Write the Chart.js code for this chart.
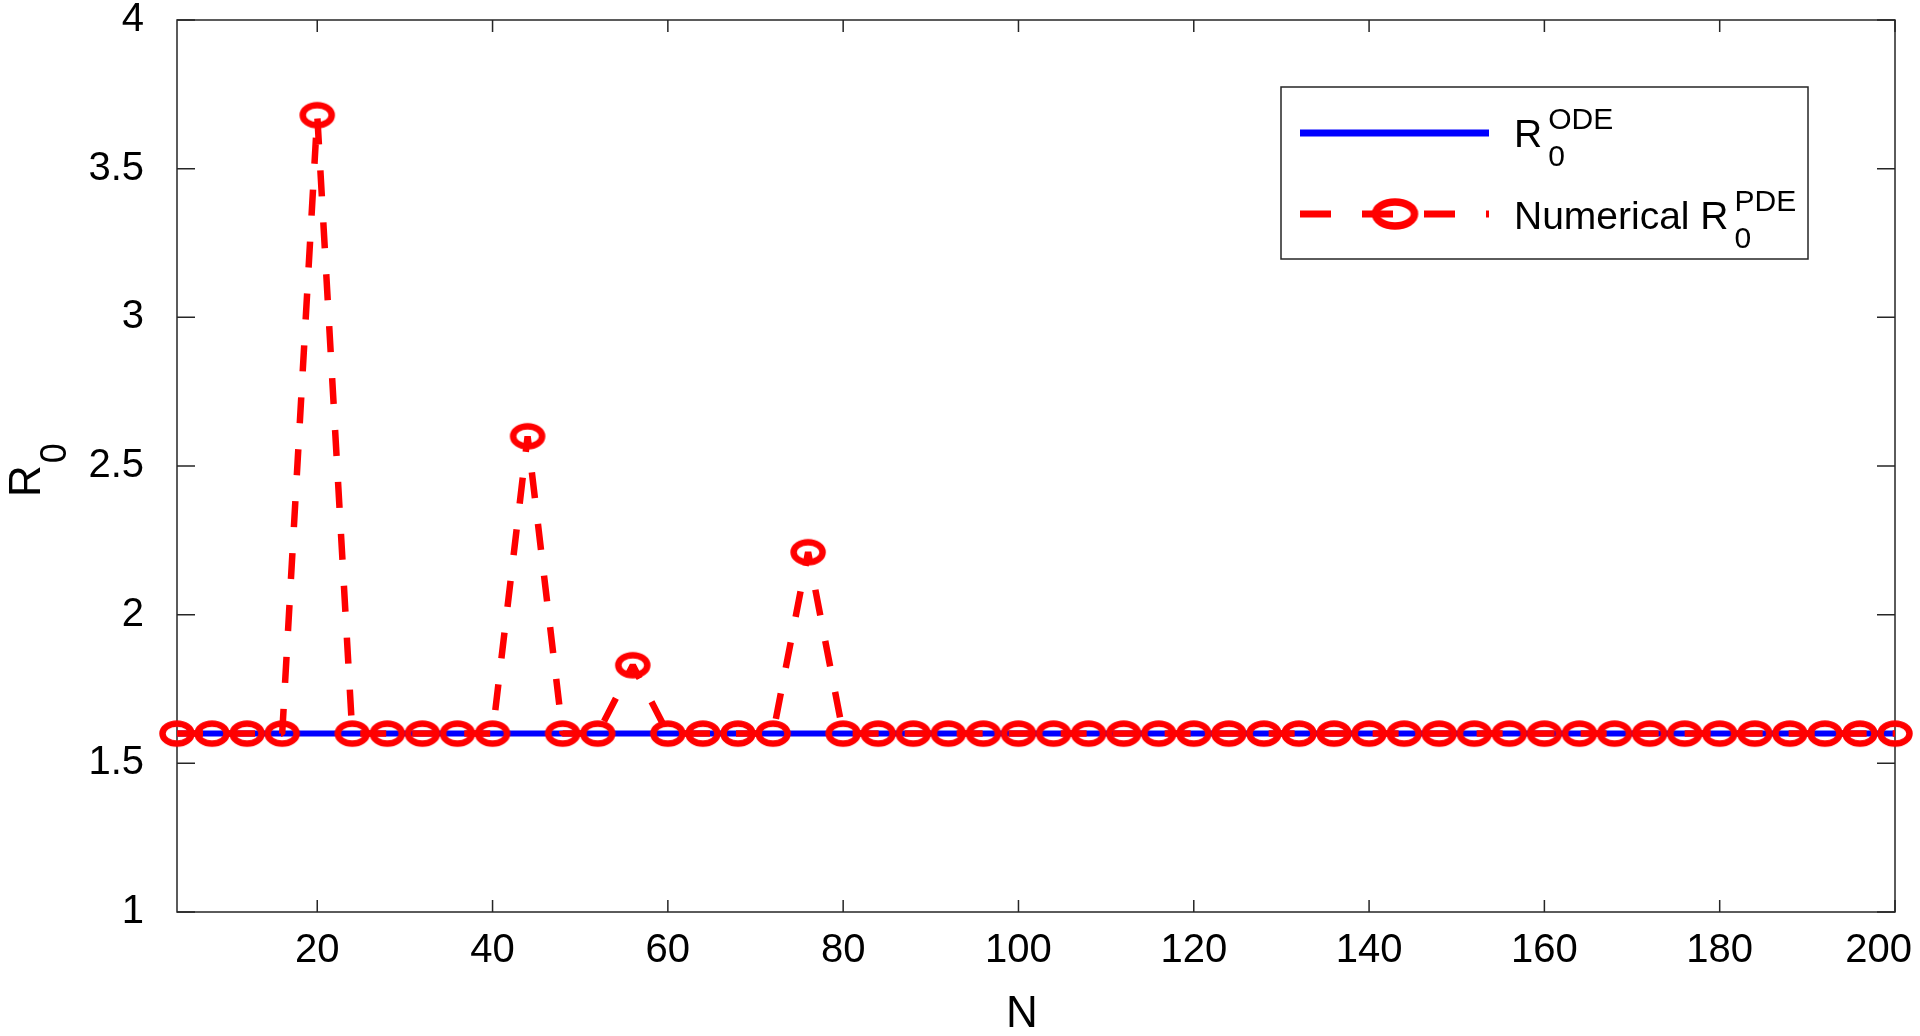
<!DOCTYPE html>
<html>
<head>
<meta charset="utf-8">
<script src="https://cdn.jsdelivr.net/npm/chart.js@4.4.1/dist/chart.umd.min.js"></script>
<style>
  html, body { margin: 0; padding: 0; background: #fff; }
  #wrap { width: 1920px; height: 1036px; }
</style>
</head>
<body>
<div id="wrap"><canvas id="r0-chart" width="1920" height="1036"></canvas></div>
<script>
// N values (x axis)
const nValues = [4, 8, 12, 16, 20, 24, 28, 32, 36, 40, 44, 48, 52, 56, 60, 64, 68, 72, 76, 80,
    84, 88, 92, 96, 100, 104, 108, 112, 116, 120, 124, 128, 132, 136, 140, 144, 148, 152, 156, 160,
    164, 168, 172, 176, 180, 184, 188, 192, 196, 200];

// numerical R0 (PDE)
const pdeValues = [1.6, 1.6, 1.6, 1.6, 3.68, 1.6, 1.6, 1.6, 1.6, 1.6, 2.6, 1.6, 1.6, 1.83, 1.6, 1.6, 1.6, 1.6, 2.21, 1.6,
    1.6, 1.6, 1.6, 1.6, 1.6, 1.6, 1.6, 1.6, 1.6, 1.6, 1.6, 1.6, 1.6, 1.6, 1.6, 1.6, 1.6, 1.6, 1.6, 1.6,
    1.6, 1.6, 1.6, 1.6, 1.6, 1.6, 1.6, 1.6, 1.6, 1.6];

// R0 of the ODE model (constant)
const odeValues = [1.6, 1.6, 1.6, 1.6, 1.6, 1.6, 1.6, 1.6, 1.6, 1.6, 1.6, 1.6, 1.6, 1.6, 1.6, 1.6, 1.6, 1.6, 1.6, 1.6,
    1.6, 1.6, 1.6, 1.6, 1.6, 1.6, 1.6, 1.6, 1.6, 1.6, 1.6, 1.6, 1.6, 1.6, 1.6, 1.6, 1.6, 1.6, 1.6, 1.6,
    1.6, 1.6, 1.6, 1.6, 1.6, 1.6, 1.6, 1.6, 1.6, 1.6];

const xTicks = [20, 40, 60, 80, 100, 120, 140, 160, 180, 200];
const yTicks = [1, 1.5, 2, 2.5, 3, 3.5, 4];

const xTitle = 'N';
const yTitle = ['R', '0'];
const odeLabel = ['R', 'ODE', '0'];
const pdeLabel = ['Numerical R', 'PDE', '0'];

const FONT = '"Liberation Sans", Helvetica, Arial, sans-serif';
const AXIS_COLOR = '#262626';

// ellipse marker ("o" on a stretched figure)
const makeMarker = (rx, ry, lw) => {
    const c = document.createElement('canvas');
    c.width = Math.ceil(2 * rx + lw + 2);
    c.height = Math.ceil(2 * ry + lw + 2);
    const g = c.getContext('2d');
    g.strokeStyle = '#ff0000';
    g.lineWidth = lw;
    g.beginPath();
    g.ellipse(c.width / 2, c.height / 2, rx, ry, 0, 0, Math.PI * 2);
    g.stroke();
    return c;
};
const plotMarker = makeMarker(14.5, 10, 6.5);
const legendMarker = makeMarker(19.5, 12, 7.5);

const toPoints = (ys) => nValues.map((n, i) => ({ x: n, y: ys[i] }));

const framePlugin = {
    id: 'frame',
    beforeDatasetsDraw(chart) {
        const { ctx, chartArea: a, scales } = chart;
        ctx.save();
        ctx.strokeStyle = AXIS_COLOR;
        ctx.lineWidth = 1.5;
        ctx.strokeRect(a.left, a.top, a.right - a.left, a.bottom - a.top);
        ctx.beginPath();
        scales.x.ticks.forEach(t => {
            const x = scales.x.getPixelForValue(t.value);
            ctx.moveTo(x, a.bottom); ctx.lineTo(x, a.bottom - 12);
            ctx.moveTo(x, a.top); ctx.lineTo(x, a.top + 12);
        });
        scales.y.ticks.forEach(t => {
            const y = scales.y.getPixelForValue(t.value);
            ctx.moveTo(a.left, y); ctx.lineTo(a.left + 18, y);
            ctx.moveTo(a.right, y); ctx.lineTo(a.right - 18, y);
        });
        ctx.stroke();
        ctx.restore();
    },
    afterDraw(chart) {
        const { ctx, chartArea: a, scales } = chart;
        ctx.save();
        ctx.fillStyle = '#000';

        // x tick labels, kept inside the figure
        ctx.font = '40px ' + FONT;
        ctx.textAlign = 'center';
        ctx.textBaseline = 'alphabetic';
        scales.x.ticks.forEach(t => {
            const label = String(t.value);
            const w = ctx.measureText(label).width;
            let x = scales.x.getPixelForValue(t.value);
            x = Math.min(x, 1912 - w / 2);
            ctx.fillText(label, x, 962);
        });

        // axis titles
        ctx.font = '44px ' + FONT;
        ctx.fillText(xTitle, (a.left + a.right) / 2 - 14, 1027);

        ctx.save();
        ctx.translate(40, 497);
        ctx.rotate(-Math.PI / 2);
        ctx.textAlign = 'left';
        ctx.font = '44px ' + FONT;
        ctx.fillText(yTitle[0], 0, 0);
        const rw = ctx.measureText(yTitle[0]).width;
        ctx.font = '36px ' + FONT;
        ctx.fillText(yTitle[1], rw + 2, 26);
        ctx.restore();

        // legend
        ctx.fillStyle = '#fff';
        ctx.fillRect(1281, 87, 527, 172);
        ctx.strokeStyle = AXIS_COLOR;
        ctx.lineWidth = 1.5;
        ctx.strokeRect(1281, 87, 527, 172);

        ctx.strokeStyle = '#0000ff';
        ctx.lineWidth = 7;
        ctx.beginPath();
        ctx.moveTo(1300, 133); ctx.lineTo(1489, 133);
        ctx.stroke();

        ctx.strokeStyle = '#ff0000';
        ctx.setLineDash([31, 31]);
        ctx.beginPath();
        ctx.moveTo(1300, 214); ctx.lineTo(1489, 214);
        ctx.stroke();
        ctx.setLineDash([]);
        ctx.drawImage(legendMarker, 1395 - legendMarker.width / 2, 214 - legendMarker.height / 2);

        ctx.fillStyle = '#000';
        ctx.textAlign = 'left';
        const drawEntry = (parts, x, base) => {
            ctx.font = '39px ' + FONT;
            ctx.fillText(parts[0], x, base);
            const w = ctx.measureText(parts[0]).width;
            ctx.font = '30px ' + FONT;
            ctx.fillText(parts[1], x + w + 6, base - 18);
            ctx.fillText(parts[2], x + w + 6, base + 19);
        };
        drawEntry(odeLabel, 1514, 147);
        drawEntry(pdeLabel, 1514, 229);

        ctx.restore();
    }
};

const renderChart = () => {
    const ctx = document.getElementById('r0-chart').getContext('2d');

    new Chart(ctx, {
        type: 'line',
        data: {
            datasets: [{
                label: 'Numerical R0 PDE',
                data: toPoints(pdeValues),
                borderColor: '#ff0000',
                backgroundColor: 'transparent',
                borderWidth: 6.5,
                borderDash: [26, 26],
                borderJoinStyle: 'bevel',
                pointStyle: plotMarker,
                pointRadius: 10,
                pointHoverRadius: 10,
                tension: 0,
                fill: false,
                clip: false
            }, {
                label: 'R0 ODE',
                data: toPoints(odeValues),
                borderColor: '#0000ff',
                backgroundColor: 'transparent',
                borderWidth: 6,
                pointRadius: 0,
                tension: 0,
                fill: false,
                clip: false
            }]
        },
        options: {
            responsive: false,
            animation: false,
            devicePixelRatio: 1,
            events: [],
            layout: { padding: { top: 20, right: 25, left: 0, bottom: 0 } },
            plugins: {
                legend: { display: false },
                tooltip: { enabled: false }
            },
            scales: {
                x: {
                    type: 'linear',
                    min: 4,
                    max: 200,
                    afterBuildTicks: scale => { scale.ticks = xTicks.map(v => ({ value: v })); },
                    afterFit: scale => {
                        scale.height = 124;
                        scale.paddingLeft = 0;
                        scale.paddingRight = 0;
                    },
                    grid: { display: false },
                    border: { display: false },
                    ticks: { display: false }
                },
                y: {
                    type: 'linear',
                    min: 1,
                    max: 4,
                    afterBuildTicks: scale => { scale.ticks = yTicks.map(v => ({ value: v })); },
                    afterFit: scale => {
                        scale.width = 177;
                        scale.paddingTop = 0;
                        scale.paddingBottom = 0;
                    },
                    grid: { display: false },
                    border: { display: false },
                    ticks: {
                        color: '#000',
                        padding: 25,
                        font: { family: FONT, size: 40 },
                        callback: v => String(v)
                    }
                }
            }
        },
        plugins: [framePlugin]
    });
};

document.addEventListener('DOMContentLoaded', () => {
    renderChart();
});
</script>
</body>
</html>
